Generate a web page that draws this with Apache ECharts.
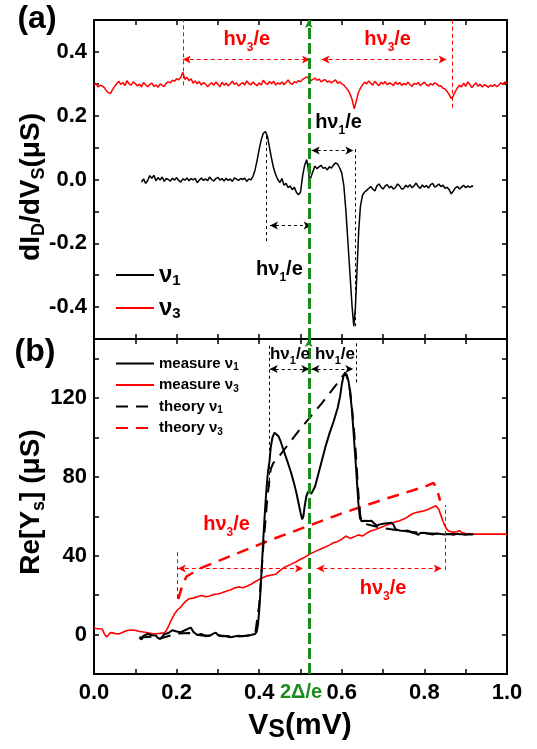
<!DOCTYPE html>
<html><head><meta charset="utf-8">
<script src="https://cdn.jsdelivr.net/npm/echarts@6/dist/echarts.min.js"></script>
<style>html,body{margin:0;padding:0;background:#fff}#c{width:537px;height:749px}</style>
</head><body><div id="c"></div>
<script>
// ---------- data (x in mV) ----------
const dIdV_nu3 = [[0,0.295],[0.005,0.300],[0.01,0.290],[0.015,0.296],[0.02,0.293],[0.025,0.288],[0.03,0.278],[0.035,0.272],[0.04,0.270],[0.045,0.282],[0.05,0.292],[0.055,0.300],[0.06,0.308],[0.065,0.298],[0.07,0.304],[0.075,0.294],[0.08,0.310],[0.085,0.300],[0.09,0.296],[0.095,0.306],[0.1,0.301],[0.105,0.293],[0.11,0.299],[0.115,0.290],[0.12,0.304],[0.125,0.297],[0.13,0.291],[0.135,0.298],[0.14,0.302],[0.145,0.292],[0.15,0.296],[0.155,0.289],[0.16,0.300],[0.165,0.295],[0.17,0.291],[0.175,0.302],[0.18,0.306],[0.185,0.303],[0.19,0.311],[0.195,0.308],[0.2,0.316],[0.205,0.312],[0.21,0.320],[0.215,0.336],[0.22,0.314],[0.225,0.320],[0.23,0.310],[0.235,0.316],[0.24,0.302],[0.245,0.309],[0.25,0.300],[0.255,0.307],[0.26,0.296],[0.265,0.304],[0.27,0.299],[0.275,0.291],[0.28,0.298],[0.285,0.303],[0.29,0.295],[0.295,0.306],[0.3,0.299],[0.305,0.291],[0.31,0.305],[0.315,0.296],[0.32,0.302],[0.325,0.294],[0.33,0.300],[0.335,0.308],[0.34,0.298],[0.345,0.303],[0.35,0.293],[0.355,0.299],[0.36,0.304],[0.365,0.296],[0.37,0.309],[0.375,0.300],[0.38,0.297],[0.385,0.306],[0.39,0.299],[0.395,0.294],[0.4,0.303],[0.405,0.296],[0.41,0.311],[0.415,0.302],[0.42,0.298],[0.425,0.307],[0.43,0.300],[0.435,0.308],[0.44,0.296],[0.445,0.303],[0.45,0.299],[0.455,0.306],[0.46,0.297],[0.465,0.304],[0.47,0.312],[0.475,0.302],[0.48,0.298],[0.485,0.307],[0.49,0.303],[0.495,0.310],[0.5,0.306],[0.505,0.314],[0.51,0.318],[0.515,0.322],[0.52,0.316],[0.525,0.310],[0.53,0.314],[0.535,0.318],[0.54,0.311],[0.545,0.315],[0.55,0.306],[0.555,0.311],[0.56,0.313],[0.565,0.305],[0.57,0.309],[0.575,0.303],[0.58,0.308],[0.585,0.312],[0.59,0.301],[0.595,0.306],[0.6,0.300],[0.605,0.296],[0.61,0.288],[0.615,0.280],[0.62,0.268],[0.625,0.250],[0.63,0.222],[0.635,0.245],[0.64,0.272],[0.645,0.286],[0.65,0.296],[0.655,0.305],[0.66,0.300],[0.665,0.309],[0.67,0.302],[0.675,0.296],[0.68,0.308],[0.685,0.300],[0.69,0.294],[0.695,0.305],[0.7,0.299],[0.705,0.307],[0.71,0.297],[0.715,0.303],[0.72,0.300],[0.725,0.294],[0.73,0.306],[0.735,0.298],[0.74,0.304],[0.745,0.295],[0.75,0.301],[0.755,0.297],[0.76,0.305],[0.765,0.298],[0.77,0.292],[0.775,0.301],[0.78,0.298],[0.785,0.304],[0.79,0.294],[0.795,0.300],[0.8,0.305],[0.805,0.297],[0.81,0.293],[0.815,0.301],[0.82,0.296],[0.825,0.303],[0.83,0.299],[0.835,0.293],[0.84,0.294],[0.845,0.286],[0.85,0.284],[0.855,0.276],[0.86,0.266],[0.865,0.254],[0.87,0.262],[0.875,0.276],[0.88,0.287],[0.885,0.296],[0.89,0.290],[0.895,0.302],[0.9,0.292],[0.905,0.306],[0.91,0.298],[0.915,0.288],[0.92,0.296],[0.925,0.303],[0.93,0.292],[0.935,0.299],[0.94,0.290],[0.945,0.297],[0.95,0.294],[0.955,0.289],[0.96,0.296],[0.965,0.292],[0.97,0.298],[0.975,0.291],[0.98,0.295],[0.985,0.303],[0.99,0.299],[0.995,0.306],[1.0,0.300]];
const dIdV_nu1 = [[0.115,-0.008],[0.12,0.002],[0.125,-0.012],[0.13,-0.003],[0.135,0.012],[0.14,0.004],[0.145,0.013],[0.15,-0.004],[0.155,0.006],[0.16,-0.002],[0.165,0.008],[0.17,-0.006],[0.175,0.003],[0.18,0.0],[0.185,-0.005],[0.19,0.004],[0.195,-0.002],[0.2,0.006],[0.205,-0.003],[0.21,-0.008],[0.215,0.002],[0.22,-0.002],[0.225,0.005],[0.23,-0.004],[0.235,0.003],[0.24,-0.001],[0.245,0.004],[0.25,-0.01],[0.255,-0.002],[0.26,0.005],[0.265,-0.003],[0.27,0.002],[0.275,-0.004],[0.28,0.008],[0.285,0.0],[0.29,-0.005],[0.295,0.003],[0.3,0.007],[0.305,-0.002],[0.31,0.003],[0.315,-0.005],[0.32,0.004],[0.325,-0.003],[0.33,0.002],[0.335,-0.006],[0.34,0.005],[0.345,0.001],[0.35,-0.003],[0.355,0.003],[0.36,0.0],[0.365,0.004],[0.37,-0.006],[0.375,0.002],[0.38,-0.001],[0.385,0.01],[0.39,0.03],[0.395,0.06],[0.4,0.095],[0.405,0.125],[0.41,0.145],[0.415,0.15],[0.42,0.135],[0.425,0.1],[0.43,0.065],[0.435,0.035],[0.44,0.015],[0.445,0.0],[0.45,-0.01],[0.455,0.003],[0.46,-0.018],[0.465,-0.012],[0.47,-0.026],[0.475,-0.02],[0.48,-0.032],[0.485,-0.024],[0.49,-0.04],[0.495,-0.048],[0.5,-0.04],[0.505,0.01],[0.51,0.045],[0.515,0.062],[0.518,0.04],[0.522,-0.005],[0.525,-0.008],[0.53,0.025],[0.535,0.042],[0.54,0.034],[0.545,0.04],[0.55,0.044],[0.555,0.035],[0.56,0.038],[0.565,0.03],[0.57,0.04],[0.575,0.036],[0.58,0.046],[0.585,0.052],[0.59,0.048],[0.595,0.036],[0.6,0.02],[0.605,-0.02],[0.61,-0.1],[0.615,-0.2],[0.62,-0.3],[0.625,-0.4],[0.629,-0.46],[0.633,-0.4],[0.637,-0.28],[0.641,-0.16],[0.645,-0.085],[0.65,-0.05],[0.655,-0.04],[0.66,-0.034],[0.665,-0.028],[0.67,-0.022],[0.675,-0.03],[0.68,-0.036],[0.685,-0.02],[0.69,-0.014],[0.695,-0.024],[0.7,-0.03],[0.705,-0.02],[0.71,-0.016],[0.715,-0.026],[0.72,-0.021],[0.725,-0.03],[0.73,-0.025],[0.735,-0.014],[0.74,-0.02],[0.745,-0.03],[0.75,-0.028],[0.755,-0.018],[0.76,-0.024],[0.765,-0.016],[0.77,-0.026],[0.775,-0.02],[0.78,-0.011],[0.785,-0.022],[0.79,-0.028],[0.795,-0.017],[0.8,-0.024],[0.805,-0.019],[0.81,-0.027],[0.815,-0.016],[0.82,-0.012],[0.825,-0.024],[0.83,-0.02],[0.835,-0.014],[0.84,-0.022],[0.845,-0.018],[0.85,-0.028],[0.855,-0.024],[0.86,-0.032],[0.865,-0.045],[0.87,-0.036],[0.875,-0.026],[0.88,-0.022],[0.885,-0.03],[0.89,-0.024],[0.895,-0.018],[0.9,-0.026],[0.905,-0.02],[0.91,-0.025],[0.915,-0.02],[0.918,-0.022]];
const ReY_meas_nu1 = [[0.11,-1.5],[0.115,-2.5],[0.12,-0.5],[0.13,0.3],[0.14,-0.3],[0.15,-0.5],[0.155,-1.8],[0.16,-2.2],[0.165,-1.2],[0.17,0.2],[0.18,0.8],[0.19,2.2],[0.20,1.6],[0.21,1.2],[0.22,2.2],[0.23,3.2],[0.235,3.5],[0.24,1.5],[0.25,-0.2],[0.26,0.3],[0.27,-0.8],[0.28,-0.6],[0.29,0.6],[0.295,1.0],[0.30,-0.2],[0.31,-0.8],[0.32,-0.9],[0.33,-1.4],[0.34,-1.0],[0.35,-0.6],[0.36,-0.8],[0.37,-0.6],[0.38,-0.2],[0.39,0.3],[0.394,1.5],[0.397,5],[0.40,12],[0.403,22],[0.406,33],[0.409,45],[0.412,56],[0.415,66],[0.418,75],[0.421,82],[0.425,88],[0.428,95],[0.432,100],[0.437,102.5],[0.442,101.5],[0.447,100.5],[0.452,98],[0.46,93],[0.468,88],[0.476,83],[0.484,77],[0.49,72],[0.496,66],[0.50,62],[0.504,58.5],[0.507,60],[0.51,65],[0.514,70],[0.518,72.5],[0.522,72],[0.526,71.5],[0.53,73],[0.535,75],[0.54,79],[0.55,87],[0.56,95],[0.57,102],[0.58,108],[0.59,115],[0.596,121],[0.60,127],[0.604,131],[0.608,133],[0.612,132],[0.616,129],[0.62,123],[0.624,115],[0.628,104],[0.632,92],[0.636,80],[0.64,67],[0.644,59],[0.648,57.5],[0.655,57.8],[0.665,57.6],[0.672,57.8],[0.678,56.5],[0.685,55.2],[0.69,55.8],[0.70,56.2],[0.71,56.5],[0.72,56.8],[0.725,55.8],[0.73,53.5],[0.74,52.8],[0.75,52.6],[0.76,52.8],[0.77,51.8],[0.78,51.2],[0.785,50.6],[0.79,51.5],[0.80,51.7],[0.81,51.2],[0.82,50.8],[0.83,51.3],[0.84,51.0],[0.85,50.8],[0.86,51.0],[0.87,50.7],[0.88,51.1],[0.89,50.9],[0.90,50.7],[0.91,50.9],[0.918,50.8]];
const ReY_meas_nu3 = [[0,3.2],[0.01,3.0],[0.02,2.8],[0.025,0.5],[0.03,-1.2],[0.035,-0.2],[0.04,1.0],[0.05,0.6],[0.06,0.3],[0.07,1.2],[0.08,2.1],[0.09,2.3],[0.10,2.2],[0.11,1.6],[0.12,1.3],[0.13,0.9],[0.14,0.5],[0.15,0.4],[0.16,0.6],[0.17,0.9],[0.175,2.0],[0.18,4.0],[0.185,6.5],[0.19,8.5],[0.195,10.5],[0.20,12],[0.21,14],[0.22,16.5],[0.23,18.2],[0.24,18.5],[0.25,19.2],[0.26,19.8],[0.27,19.2],[0.28,19.6],[0.29,20.4],[0.30,20.6],[0.31,21.2],[0.32,22.0],[0.33,22.6],[0.34,23.6],[0.35,24.2],[0.36,23.8],[0.37,24.5],[0.38,25.5],[0.39,26.8],[0.40,28],[0.41,29],[0.42,29.8],[0.43,30.2],[0.44,30.6],[0.45,32.5],[0.46,34],[0.47,35],[0.48,36],[0.49,37],[0.50,38.2],[0.51,39.2],[0.52,40.6],[0.53,41.6],[0.54,42.6],[0.55,43.6],[0.56,44.4],[0.57,45.4],[0.58,46.6],[0.59,47.2],[0.60,48.4],[0.61,50.0],[0.62,48.8],[0.63,49.6],[0.64,50.6],[0.65,50.0],[0.66,51.4],[0.67,52.6],[0.68,53.2],[0.69,54.0],[0.70,54.8],[0.71,55.8],[0.72,56.4],[0.73,57.2],[0.74,57.8],[0.75,58.6],[0.76,59.8],[0.77,61.2],[0.78,62.0],[0.79,62.4],[0.80,62.8],[0.81,63.6],[0.82,64.6],[0.828,65.4],[0.835,63.5],[0.84,60.5],[0.845,57.5],[0.85,55],[0.855,53.2],[0.86,52.4],[0.87,52.0],[0.88,52.2],[0.885,52.8],[0.89,51.8],[0.90,51.3],[0.92,51.0],[0.95,51.0],[1.0,51.0]];
const ReY_theo_nu1 = [[0.11,-1.5],[0.15,-1],[0.16,-2],[0.20,0.5],[0.23,0.8],[0.26,-0.5],[0.30,-0.5],[0.35,-1],[0.39,0],[0.40,15],[0.41,45],[0.42,70],[0.428,84],[0.434,87],[0.45,91],[0.50,104.5],[0.55,117],[0.592,128.3],[0.605,132],[0.612,132],[0.62,124],[0.628,108],[0.634,92],[0.64,72],[0.645,60],[0.65,56.5],[0.67,55.5],[0.70,54],[0.75,52.5],[0.80,51.5],[0.85,51],[0.92,51]];
const ReY_theo_nu3 = [[0.204,18],[0.214,25],[0.224,29.5],[0.257,33.6],[0.35,41.5],[0.44,49],[0.525,55.6],[0.60,61.5],[0.70,68.5],[0.80,75],[0.822,77],[0.83,74],[0.838,68]];
const gapVoltage = 0.523; // 2Δ/e

const xTickLabels = ['0.0','0.2','0.4','0.6','0.8','1.0'];
const yTickLabelsA = ['-0.4','-0.2','0.0','0.2','0.4'];
const yTickLabelsB = ['0','40','80','120'];

// annotations (data coordinates)
const annoA_redV = [[0.215,0.295,0.5],[0.868,0.225,0.5]];        // x, y1, y2
const annoA_redArrow = [[0.215,0.523,0.376],[0.551,0.854,0.376]]; // x1, x2, y
const annoA_blkV = [[0.632,-0.46,0.104],[0.418,-0.193,0.147]];
const annoA_blkArrow = [[0.527,0.628,0.091],[0.426,0.527,-0.144]];
const annoA_text = [[0.37,0.439,'3','#ff0000'],[0.711,0.439,'3','#ff0000'],[0.592,0.178,'1','#000'],[0.449,-0.282,'1','#000']];
const annoB_blkV = [[0.424,75,148],[0.634,128,148]];
const annoB_blkArrow = [[0.4255,0.5215,134.8],[0.5265,0.6277,134.8]];
const annoB_redV = [[0.201,18.5,43],[0.850,32.8,65.8]];
const annoB_redArrow = [[0.203,0.506,33.6],[0.539,0.842,33.6]];
const annoB_text = [[0.4746,142.4,'1','#000',17],[0.5835,142.4,'1','#000',17],[0.321,55.7,'3','#ff0000',20],[0.70,23.5,'3','#ff0000',20]];

// ---------- chart ----------
const FF = '"Liberation Sans", Arial, Helvetica, sans-serif';
const GREEN = '#1a8c1a';
const chart = echarts.init(document.getElementById('c'), null, {renderer:'canvas'});

function fmt(list, dec){ return v => { const s = dec ? (Math.abs(v)<1e-9?0:v).toFixed(dec) : String(Math.round(v)); return list.includes(s) ? s : ''; }; }
function xAx(grid, pos, labels){
  return { type:'value', gridIndex:grid, position:pos, min:0, max:1, interval:0.1,
    axisLine:{onZero:false, lineStyle:{color:'#000', width:2}},
    axisTick:{inside:true, length:5, lineStyle:{color:'#000', width:1.5}},
    splitLine:{show:false},
    axisLabel: labels ? {show:true, interval:0, margin:8, formatter:fmt(xTickLabels,1), color:'#000', fontSize:22, fontWeight:'bold', fontFamily:FF} : {show:false} };
}
function yAx(grid, pos, min, max, iv, list, dec){
  return { type:'value', gridIndex:grid, position:pos, min, max, interval:iv,
    axisLine:{onZero:false, lineStyle:{color:'#000', width:2}},
    axisTick:{inside:true, length:5, lineStyle:{color:'#000', width:1.5}},
    splitLine:{show:false},
    axisLabel: list ? {show:true, interval:0, margin:7, formatter:fmt(list,dec), color:'#000', fontSize:22, fontWeight:'bold', fontFamily:FF} : {show:false} };
}
const dashB = {color:'#000', width:1, type:[3,3]};
const dashR = {color:'#ff0000', width:1, type:[4,3]};
function vline(a, st){ return [{coord:[a[0],a[1]], symbol:'none', lineStyle:st},{coord:[a[0],a[2]], symbol:'none'}]; }
function arrow(a, st){ return [{coord:[a[0],a[2]], symbol:'arrow', lineStyle:st},{coord:[a[1],a[2]], symbol:'arrow'}]; }
function hvItem(a, size){
  const c = a[3], s = size || a[4] || 20, ss = Math.round(s*0.62);
  return { value:[a[0],a[1]], label:{show:true, position:'inside', formatter:'{t|hν}{s|'+a[2]+'}{t|/e}',
    color:c, fontWeight:'bold', fontFamily:FF, fontSize:s, textBorderWidth:0, textShadowBlur:0, opacity:1,
    rich:{ t:{fontSize:s, fontWeight:'bold', fontFamily:FF, color:c, textBorderWidth:0, lineHeight:s+8, verticalAlign:'middle'},
           s:{fontSize:ss, fontWeight:'bold', fontFamily:FF, color:c, textBorderWidth:0, lineHeight:ss, verticalAlign:'bottom'} } } };
}
function mk(lines){ return { silent:true, animation:false, symbolSize:[6,8], label:{show:false}, emphasis:{disabled:true}, data:lines }; }
const greenLine = {xAxis:gapVoltage, symbol:'none', lineStyle:{color:GREEN, width:3, type:[11,4]}};

const option = {
  animation:false,
  backgroundColor:'#fff',
  grid:[{left:94, top:20, width:413, height:319},{left:94, top:339, width:413, height:335}],
  xAxis:[xAx(0,'bottom',false), xAx(0,'top',false), xAx(1,'bottom',true), xAx(1,'top',false)],
  yAxis:[yAx(0,'left',-0.5,0.5,0.1,yTickLabelsA,1), yAx(0,'right',-0.5,0.5,0.1,null),
         yAx(1,'left',-20,150,20,yTickLabelsB,0), yAx(1,'right',-20,150,20,null)],
  legend:[
    { data:['ν1','ν3'], left:110, top:258, orient:'vertical', itemWidth:38, itemHeight:14, itemGap:8, selectedMode:false,
      itemStyle:{opacity:0, borderWidth:0},
      formatter: n => '{n|ν}{s|'+n.slice(1)+'}',
      textStyle:{ rich:{ n:{fontSize:24, fontWeight:'bold', fontFamily:FF, color:'#000', lineHeight:26, verticalAlign:'middle'},
                         s:{fontSize:15, fontWeight:'bold', fontFamily:FF, color:'#000', lineHeight:14, verticalAlign:'bottom'} } } },
    { data:['measure ν1','measure ν3','theory ν1','theory ν3'], left:110, top:351, orient:'vertical', itemWidth:38, itemHeight:12, itemGap:5, selectedMode:false,
      itemStyle:{opacity:0, borderWidth:0},
      formatter: n => '{n|'+n.slice(0,-1)+'}{s|'+n.slice(-1)+'}',
      textStyle:{ rich:{ n:{fontSize:15, fontWeight:'bold', fontFamily:FF, color:'#000', lineHeight:18, verticalAlign:'middle'},
                         s:{fontSize:10, fontWeight:'bold', fontFamily:FF, color:'#000', lineHeight:12, verticalAlign:'bottom'} } } }
  ],
  series:[
    { name:'ν3', type:'line', xAxisIndex:0, yAxisIndex:0, data:dIdV_nu3, symbol:'none', lineStyle:{color:'#ff0000', width:1.5}, itemStyle:{color:'#ff0000'}, z:3,
      markLine: mk([ ...annoA_redV.map(a=>vline(a,dashR)), ...annoA_redArrow.map(a=>arrow(a,dashR)) ]) },
    { name:'ν1', type:'line', xAxisIndex:0, yAxisIndex:0, data:dIdV_nu1, symbol:'none', lineStyle:{color:'#000', width:1.5}, itemStyle:{color:'#000'}, z:3,
      markLine: mk([ ...annoA_blkV.map(a=>vline(a,dashB)), ...annoA_blkArrow.map(a=>arrow(a,dashB)), greenLine ]) },
    { type:'scatter', xAxisIndex:0, yAxisIndex:0, symbolSize:1, itemStyle:{color:'#fff', opacity:0}, silent:true, z:5,
      data: annoA_text.map(a=>hvItem(a,20)) },
    { name:'measure ν3', type:'line', xAxisIndex:2, yAxisIndex:2, data:ReY_meas_nu3, symbol:'none', lineStyle:{color:'#ff0000', width:1.6}, itemStyle:{color:'#ff0000'}, z:3,
      markLine: mk([ ...annoB_redV.map(a=>vline(a,dashR)), ...annoB_redArrow.map(a=>arrow(a,dashR)) ]) },
    { name:'theory ν3', type:'line', xAxisIndex:2, yAxisIndex:2, data:ReY_theo_nu3, symbol:'none', lineStyle:{color:'#ff0000', width:2.5, type:[12,8]}, itemStyle:{color:'#ff0000'}, z:2 },
    { name:'theory ν1', type:'line', xAxisIndex:2, yAxisIndex:2, data:ReY_theo_nu1, symbol:'none', lineStyle:{color:'#000', width:2, type:[12,8]}, itemStyle:{color:'#000'}, z:2 },
    { name:'measure ν1', type:'line', xAxisIndex:2, yAxisIndex:2, data:ReY_meas_nu1, symbol:'none', lineStyle:{color:'#000', width:2}, itemStyle:{color:'#000'}, z:3,
      markLine: mk([ ...annoB_blkV.map(a=>vline(a,dashB)), ...annoB_blkArrow.map(a=>arrow(a,dashB)), greenLine ]) },
    { type:'scatter', xAxisIndex:2, yAxisIndex:2, symbolSize:1, itemStyle:{color:'#fff', opacity:0}, silent:true, z:5, clip:false,
      data: [ ...annoB_text.map(a=>hvItem(a)),
        { value:[gapVoltage,-20], label:{show:true, position:'bottom', distance:8, offset:[-9,0], formatter:'2Δ/e', color:GREEN, fontSize:20, fontWeight:'bold', fontFamily:FF, opacity:1} } ] }
  ],
  graphic:[
    { type:'text', x:37, y:19, style:{text:'(a)', fill:'#000', fontSize:32, fontWeight:'bold', fontFamily:FF, align:'center', verticalAlign:'middle'} },
    { type:'text', x:35, y:352, style:{text:'(b)', fill:'#000', fontSize:32, fontWeight:'bold', fontFamily:FF, align:'center', verticalAlign:'middle'} },
    { type:'text', x:31, y:187, rotation:Math.PI/2, style:{ text:'{m|dI}{s|D}{m|/dV}{s|S}{m|(μS)}', align:'center', verticalAlign:'middle',
        rich:{ m:{fontSize:28, fontWeight:'bold', fontFamily:FF, fill:'#000', lineHeight:34, verticalAlign:'middle'},
               s:{fontSize:18, fontWeight:'bold', fontFamily:FF, fill:'#000', lineHeight:18, verticalAlign:'bottom'} } } },
    { type:'text', x:31, y:502, rotation:Math.PI/2, style:{ text:'{m|Re[Y}{s|s}{m|] (μS)}', align:'center', verticalAlign:'middle',
        rich:{ m:{fontSize:28, fontWeight:'bold', fontFamily:FF, fill:'#000', lineHeight:34, verticalAlign:'middle'},
               s:{fontSize:18, fontWeight:'bold', fontFamily:FF, fill:'#000', lineHeight:18, verticalAlign:'bottom'} } } },
    { type:'text', x:300, y:726, style:{ text:'{m|V}{s|S}{m|(mV)}', align:'center', verticalAlign:'middle',
        rich:{ m:{fontSize:30, fontWeight:'bold', fontFamily:FF, fill:'#000', lineHeight:34, verticalAlign:'middle'},
               s:{fontSize:25, fontWeight:'bold', fontFamily:FF, fill:'#000', lineHeight:25, verticalAlign:'bottom'} } } }
  ]
};
chart.setOption(option);
</script></body></html>
